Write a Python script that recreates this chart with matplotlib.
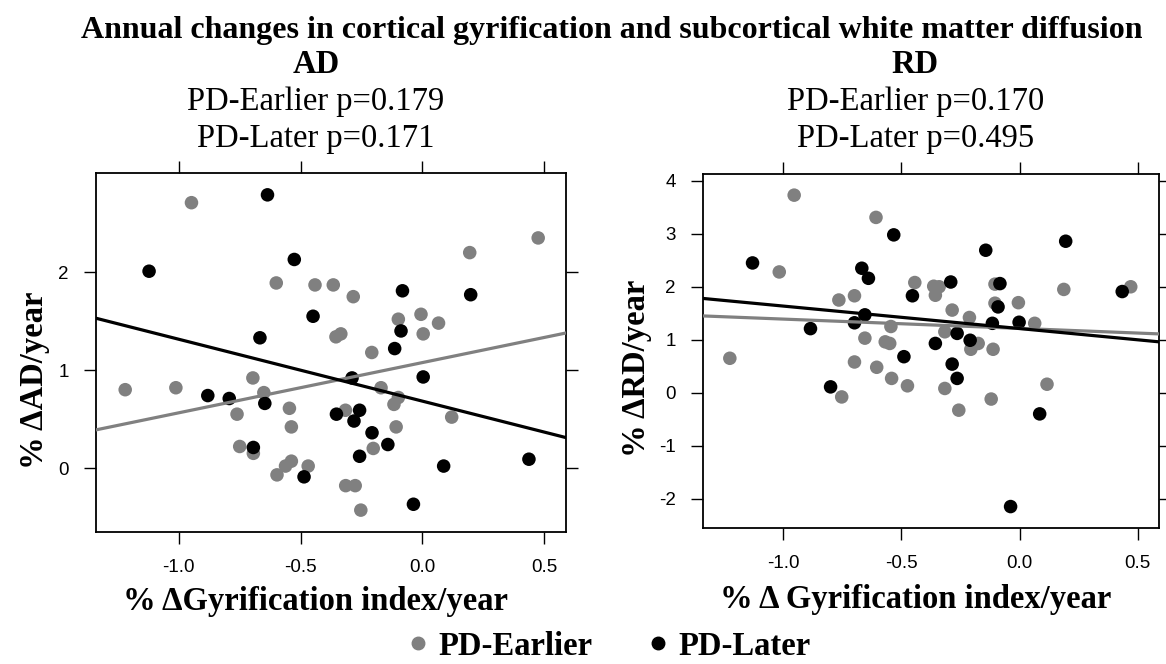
import numpy as np
import matplotlib
matplotlib.use("Agg")
import matplotlib.pyplot as plt
from matplotlib.lines import Line2D

# AD panel: (% dGyrification/year, % dAD/year)
ad_early_x = [-0.948, 0.475, 0.194, -0.60, -0.441, -0.366, -0.284, -0.099, -0.006, 0.066,
              0.003, -0.355, -0.335, -0.208, -1.22, -1.012, -0.696, -0.651, -0.761, -0.546,
              -0.538, -0.316, -0.17, -0.099, -0.117, -0.108, 0.12, -0.75, -0.694, -0.202,
              -0.597, -0.562, -0.538, -0.469, -0.315, -0.276, -0.253]
ad_early_y = [2.71, 2.35, 2.20, 1.89, 1.87, 1.87, 1.75, 1.52, 1.57, 1.48,
              1.37, 1.34, 1.37, 1.18, 0.80, 0.82, 0.92, 0.77, 0.55, 0.61,
              0.42, 0.59, 0.82, 0.72, 0.65, 0.42, 0.52, 0.22, 0.15, 0.20,
              -0.07, 0.02, 0.07, 0.02, -0.18, -0.18, -0.43]
ad_later_x = [-0.636, -1.122, -0.526, -0.082, 0.198, -0.449, -0.667, -0.088, -0.114, -0.289,
              0.003, -0.881, -0.793, -0.647, -0.353, -0.258, -0.281, -0.207, -0.142, -0.694,
              -0.258, 0.437, -0.486, 0.087, -0.037]
ad_later_y = [2.79, 2.01, 2.13, 1.81, 1.77, 1.55, 1.33, 1.40, 1.22, 0.92,
              0.93, 0.74, 0.71, 0.66, 0.55, 0.59, 0.48, 0.36, 0.24, 0.21,
              0.12, 0.09, -0.09, 0.02, -0.37]

# RD panel
rd_early_x = [-0.953, -0.607, -1.016, -1.225, -0.764, -0.698, -0.443, -0.363, -0.34, -0.356,
              -0.285, -0.212, -0.104, -0.104, -0.005, 0.064, 0.187, 0.47, -0.544, -0.654,
              -0.568, -0.549, -0.316, -0.206, -0.175, -0.112, -0.698, -0.604, -0.541, -0.474,
              -0.316, 0.116, -0.752, -0.12, -0.257]
rd_early_y = [3.73, 3.31, 2.28, 0.65, 1.75, 1.83, 2.08, 2.01, 2.00, 1.84,
              1.56, 1.42, 2.05, 1.69, 1.70, 1.31, 1.95, 2.00, 1.25, 1.03,
              0.96, 0.93, 1.15, 0.82, 0.93, 0.82, 0.58, 0.48, 0.27, 0.13,
              0.08, 0.16, -0.08, -0.12, -0.33]
rd_later_x = [-0.532, -1.129, -0.667, -0.639, -0.143, 0.195, -0.291, -0.083, -0.453, -0.091,
              0.434, -0.654, -0.698, -0.884, -0.115, -0.002, -0.264, -0.209, -0.356, -0.489,
              -0.285, -0.264, -0.799, 0.085, -0.038]
rd_later_y = [2.98, 2.45, 2.35, 2.16, 2.69, 2.86, 2.09, 2.06, 1.83, 1.62,
              1.91, 1.47, 1.32, 1.21, 1.31, 1.33, 1.12, 0.99, 0.93, 0.68,
              0.54, 0.27, 0.11, -0.40, -2.15]

# regression lines (intercept, slope)
ad_early_fit = (1.077, 0.513)
ad_later_fit = (0.683, -0.632)
rd_early_fit = (1.214, -0.176)
rd_later_fit = (1.211, -0.425)

gray = "#808080"
serif = "Liberation Serif"
sans = "Liberation Sans"
fs = 23.5

fig = plt.figure(figsize=(11.66, 6.64), dpi=100)


def panel(rect, ex, ey, lx, ly, efit, lfit, ylim, yticks):
    ax = fig.add_axes(rect)
    xlim = (-1.34, 0.59)
    ax.set_xlim(xlim)
    ax.set_ylim(ylim)
    xs = np.array(xlim)
    ax.scatter(ex, ey, s=95, color=gray, edgecolors="none", zorder=2)
    ax.scatter(lx, ly, s=95, color="black", edgecolors="none", zorder=3)
    ax.plot(xs, efit[0] + efit[1] * xs, color=gray, lw=2.3, zorder=4)
    ax.plot(xs, lfit[0] + lfit[1] * xs, color="black", lw=2.3, zorder=5)
    ax.set_xticks([-1.0, -0.5, 0.0, 0.5])
    ax.set_xticklabels(["-1.0", "-0.5", "0.0", "0.5"])
    ax.set_yticks(yticks)
    ax.set_yticklabels([str(t) for t in yticks])
    ax.tick_params(direction="out", length=8.5, width=1, top=True, right=True,
                   labelsize=13.5, pad=11)
    for lab in ax.get_xticklabels() + ax.get_yticklabels():
        lab.set_fontfamily(sans)
    for sp in ax.spines.values():
        sp.set_linewidth(1.3)
    return ax


panel([0.0823, 0.1993, 0.4033, 0.5397], ad_early_x, ad_early_y, ad_later_x, ad_later_y,
      ad_early_fit, ad_later_fit, (-0.65, 3.01), [0, 1, 2])
panel([0.6026, 0.2044, 0.3915, 0.5336], rd_early_x, rd_early_y, rd_later_x, rd_later_y,
      rd_early_fit, rd_later_fit, (-2.56, 4.13), [-2, -1, 0, 1, 2, 3, 4])

bold = dict(fontfamily=serif, fontweight="bold", fontsize=fs)
plain = dict(fontfamily=serif, fontsize=fs)

fig.text(0.5245, 0.9423, "Annual changes in cortical gyrification and subcortical white matter diffusion",
         ha="center", va="baseline", fontfamily=serif, fontweight="bold", fontsize=23)
panels = [(0.271, "AD", "0.179", "0.171", "% \u0394Gyrification index/year", 0.0813),
          (0.785, "RD", "0.170", "0.495", "% \u0394 Gyrification index/year", 0.0843)]
for cx, name, pe, pl, xlab, xly in panels:
    fig.text(cx, 0.8896, name, ha="center", va="baseline", **bold)
    fig.text(cx, 0.8343, "PD-Earlier p=" + pe, ha="center", va="baseline", **plain)
    fig.text(cx, 0.7791, "PD-Later p=" + pl, ha="center", va="baseline", **plain)
    fig.text(cx, xly, xlab, ha="center", va="baseline", **bold)

fig.text(0.0369, 0.4277, "% \u0394AD/year", rotation=90, rotation_mode="anchor",
         ha="center", va="baseline", **bold)
fig.text(0.5532, 0.4458, "% \u0394RD/year", rotation=90, rotation_mode="anchor",
         ha="center", va="baseline", **bold)

handles = [Line2D([], [], ls="none", marker="o", color=gray, markersize=9),
           Line2D([], [], ls="none", marker="o", color="black", markersize=9)]
fig.legend(handles, ["PD-Earlier", "PD-Later"], loc="center", bbox_to_anchor=(0.5225, 0.027),
           ncol=2, frameon=False, handlelength=0.6, handletextpad=0.31, columnspacing=1.72,
           borderpad=0, borderaxespad=0, prop={"family": serif, "weight": "bold", "size": fs})

fig.savefig("out.png", dpi=100)
